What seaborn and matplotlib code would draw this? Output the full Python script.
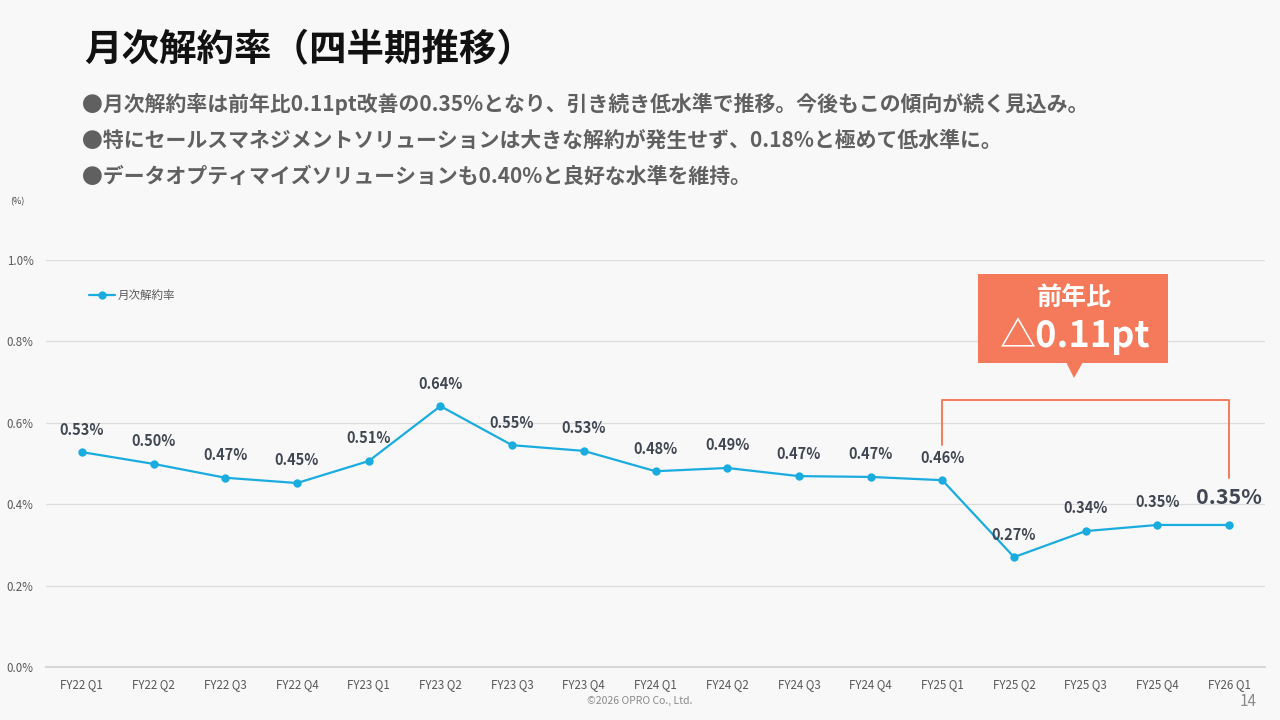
import matplotlib
matplotlib.use("Agg")
import matplotlib.pyplot as plt
import seaborn as sns
import pandas as pd
from matplotlib.patches import Rectangle, Polygon

quarters = ["FY22 Q1", "FY22 Q2", "FY22 Q3", "FY22 Q4", "FY23 Q1", "FY23 Q2",
            "FY23 Q3", "FY23 Q4", "FY24 Q1", "FY24 Q2", "FY24 Q3", "FY24 Q4",
            "FY25 Q1", "FY25 Q2", "FY25 Q3", "FY25 Q4", "FY26 Q1"]
churn = [0.528, 0.499, 0.465, 0.452, 0.506, 0.641, 0.545, 0.531, 0.481, 0.489,
         0.469, 0.467, 0.459, 0.270, 0.334, 0.349, 0.349]
labels = ["0.53%", "0.50%", "0.47%", "0.45%", "0.51%", "0.64%", "0.55%", "0.53%",
          "0.48%", "0.49%", "0.47%", "0.47%", "0.46%", "0.27%", "0.34%", "0.35%", "0.35%"]
yticks = [0.0, 0.2, 0.4, 0.6, 0.8, 1.0]
ytick_labels = ["0.0%", "0.2%", "0.4%", "0.6%", "0.8%", "1.0%"]

title = "月次解約率（四半期推移）"
bullets = [
    "●月次解約率は前年比0.11pt改善の0.35%となり、引き続き低水準で推移。今後もこの傾向が続く見込み。",
    "●特にセールスマネジメントソリューションは大きな解約が発生せず、0.18%と極めて低水準に。",
    "●データオプティマイズソリューションも0.40%と良好な水準を維持。",
]

sns.set_theme(style="white")
plt.rcParams["font.family"] = ["Noto Sans CJK JP", "DejaVu Sans"]

BG = "#F8F8F8"
LINE = "#1AACDF"
ORANGE = "#F57A5C"
TXT = "#404752"

W, H = 1280, 720
fig = plt.figure(figsize=(12.8, 7.2), dpi=100, facecolor=BG)

def fx(x):
    return x / W

def fy(y):
    return 1 - y / H

ax = fig.add_axes([fx(46), fy(667), fx(1265) - fx(46), fy(260) - fy(667)])
ax.set_facecolor(BG)

df = pd.DataFrame({"quarter": quarters, "rate": churn})
sns.lineplot(data=df, x="quarter", y="rate", ax=ax, color=LINE, linewidth=1.6,
             marker="o", markersize=6, markeredgewidth=0, label="月次解約率", sort=False)

ax.set_xlim(-0.5, len(quarters) - 0.5)
ax.set_ylim(0, 1.0)
ax.set_yticks(yticks)
ax.set_yticklabels(ytick_labels)
ax.set_xlabel("")
ax.set_ylabel("")
ax.grid(axis="y", color="#DCDCDC", linewidth=0.9)
ax.set_axisbelow(True)
for s in ["top", "right", "left"]:
    ax.spines[s].set_visible(False)
ax.spines["bottom"].set_color("#D6D6D6")
ax.spines["bottom"].set_linewidth(1.4)
ax.tick_params(axis="both", length=0, labelsize=8.3, colors="#595959")
ax.tick_params(axis="x", pad=8)
ax.tick_params(axis="y", pad=9)

# data labels
for i, (v, lab) in enumerate(zip(churn, labels)):
    if i == len(churn) - 1:
        ax.annotate(lab, (i, v), xytext=(0, 12), textcoords="offset points",
                    ha="center", va="bottom", fontsize=15.5, fontweight="bold", color=TXT)
    else:
        ax.annotate(lab, (i, v), xytext=(0, 10.5), textcoords="offset points",
                    ha="center", va="bottom", fontsize=10.5, fontweight="bold", color=TXT)

leg = ax.legend(loc="upper left", bbox_to_anchor=(0.027, 0.955), frameon=False,
                fontsize=8.3, handlelength=2.2, handletextpad=0.3)
for t in leg.get_texts():
    t.set_color("#595959")

# bracket
i0, i1 = 12, 16
ax.plot([i0, i0, i1, i1], [0.545, 0.656, 0.656, 0.464], color=ORANGE,
        linewidth=1.4, clip_on=False, zorder=1)

# callout box
fig.patches.append(Rectangle((fx(978), fy(363)), fx(1168) - fx(978), fy(274) - fy(363),
                             transform=fig.transFigure, facecolor=ORANGE, edgecolor="none"))
fig.patches.append(Polygon([(fx(1066), fy(362)), (fx(1083), fy(362)), (fx(1074), fy(378))],
                           closed=True, transform=fig.transFigure, facecolor=ORANGE,
                           edgecolor="none"))
fig.text(fx(1074), fy(298), "前年比", ha="center", va="center", fontsize=18,
         fontweight="bold", color="white")
fig.text(fx(1075), fy(336), "△0.11pt", ha="center", va="center", fontsize=26,
         fontweight="bold", color="white")

# header texts
fig.text(fx(84), fy(50), title, ha="left", va="center", fontsize=27,
         fontweight="bold", color="#111111")
for k, b in enumerate(bullets):
    fig.text(fx(82), fy(104 + 36 * k), b, ha="left", va="center", fontsize=15,
             fontweight="bold", color="#606060")

fig.text(fx(10), fy(202), "(%)", ha="left", va="center", fontsize=6.5, color="#404040")
fig.text(fx(640), fy(701), "©2026 OPRO Co., Ltd.", ha="center", va="center",
         fontsize=7.5, color="#8A8A8A")
fig.text(fx(1248), fy(702), "14", ha="center", va="center", fontsize=11, color="#8A8A8A")

fig.savefig("out.png", dpi=100, facecolor=BG)
